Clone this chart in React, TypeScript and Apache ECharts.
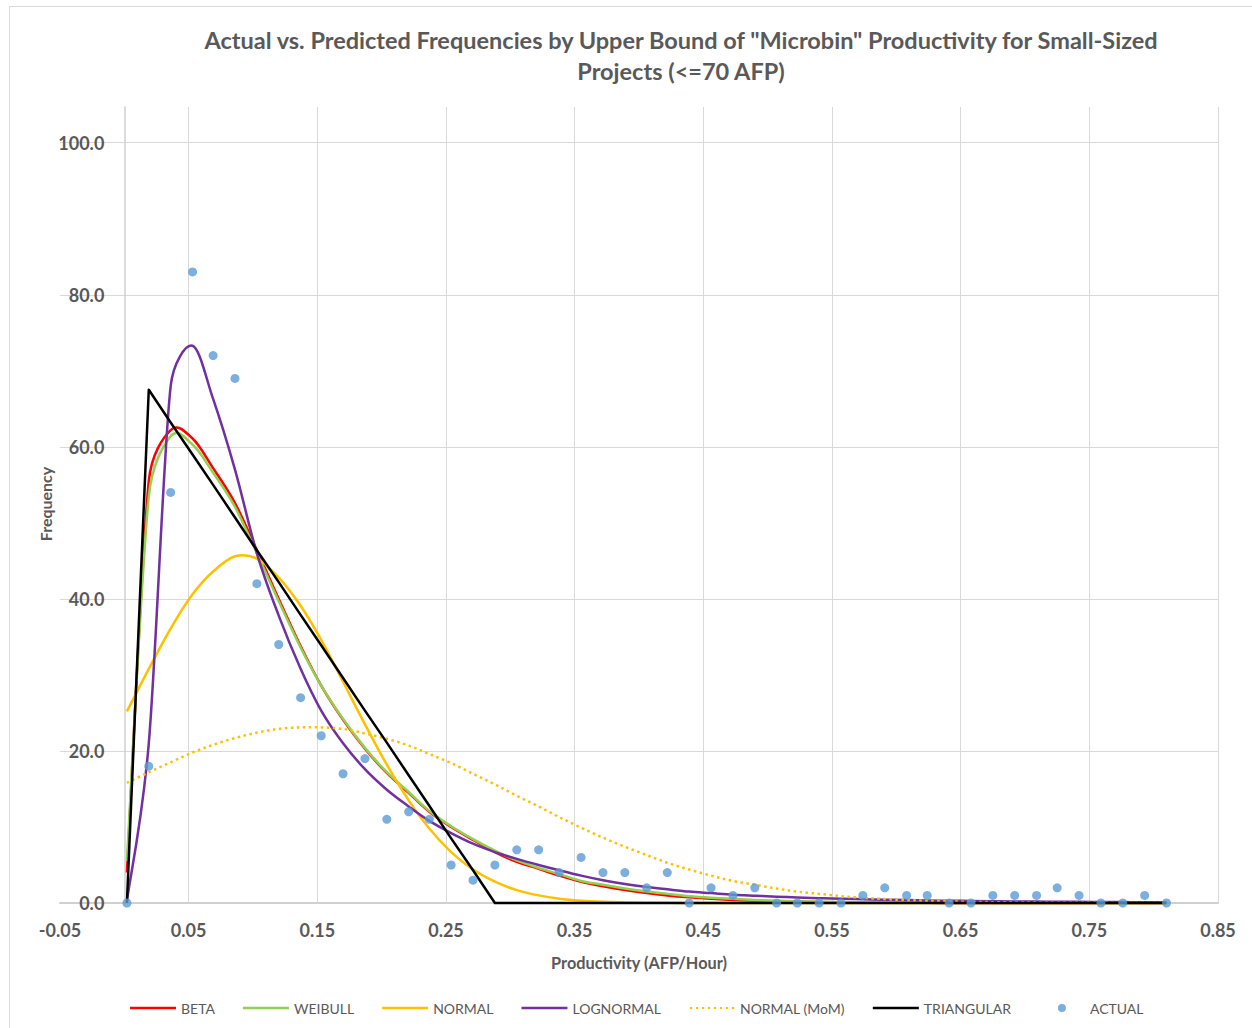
import React, { useEffect, useRef } from "react";
import * as echarts from "echarts";

const bins = [
  0.002, 0.019, 0.036, 0.053, 0.069, 0.086, 0.103, 0.120, 0.137, 0.153,
  0.170, 0.187, 0.204, 0.221, 0.237, 0.254, 0.271, 0.288, 0.305, 0.322,
  0.338, 0.355, 0.372, 0.389, 0.406, 0.422, 0.439, 0.456, 0.473, 0.490,
  0.507, 0.523, 0.540, 0.557, 0.574, 0.591, 0.608, 0.624, 0.641, 0.658,
  0.675, 0.692, 0.709, 0.725, 0.742, 0.759, 0.776, 0.793, 0.810,
];

const actual = [
  0, 18, 54, 83, 72, 69, 42, 34, 27, 22,
  17, 19, 11, 12, 11, 5, 3, 5, 7, 7,
  4, 6, 4, 4, 2, 4, 0, 2, 1, 2,
  0, 0, 0, 0, 1, 2, 1, 1, 0, 0,
  1, 1, 1, 2, 1, 0, 0, 1, 0,
];

const beta = [
  4.0, 55.5, 62.2, 61.1, 57.2, 52.6, 46.4, 40.0, 33.8, 28.6,
  24.1, 20.3, 17.1, 14.5, 12.0, 10.0, 8.3, 6.7, 5.4, 4.5,
  3.6, 2.8, 2.2, 1.7, 1.3, 1.0, 0.75, 0.55, 0.4, 0.3,
  0.2, 0.15, 0.1, 0.07, 0.05, 0.03, 0.02, 0.02, 0.01, 0.01,
  0.01, 0.01, 0, 0, 0, 0, 0, 0, 0,
];

const weibull = [
  5.5, 53.5, 61.4, 60.3, 56.6, 52.1, 46.0, 39.7, 33.6, 28.6,
  24.2, 20.4, 17.2, 14.6, 12.1, 10.1, 8.4, 6.9, 5.6, 4.6,
  3.8, 2.9, 2.4, 1.9, 1.5, 1.2, 0.9, 0.7, 0.55, 0.4,
  0.3, 0.22, 0.17, 0.13, 0.1, 0.07, 0.05, 0.04, 0.03, 0.02,
  0.02, 0.01, 0.01, 0.01, 0.01, 0.01, 0.01, 0.01, 0.01,
];

const normal = [
  25.2, 30.8, 36.1, 40.6, 43.6, 45.6, 45.3, 42.8, 39.1, 34.6,
  29.1, 23.5, 18.2, 13.5, 9.8, 6.7, 4.4, 2.8, 1.7, 1.0,
  0.56, 0.3, 0.15, 0.08, 0.04, 0.02, 0.01, 0, 0, 0,
  0, 0, 0, 0, 0, 0, 0, 0, 0, 0,
  0, 0, 0, 0, 0, 0, 0, 0, 0,
];

const lognormal = [
  0.3, 21.0, 68.0, 73.3, 66.3, 57.0, 46.0, 37.8, 30.8, 25.3,
  21.0, 17.6, 14.9, 12.7, 10.8, 9.2, 7.8, 6.7, 5.8, 5.0,
  4.3, 3.6, 3.0, 2.5, 2.1, 1.8, 1.5, 1.3, 1.1, 0.96,
  0.83, 0.73, 0.64, 0.56, 0.5, 0.44, 0.39, 0.34, 0.3, 0.27,
  0.24, 0.21, 0.19, 0.17, 0.15, 0.13, 0.12, 0.11, 0.1,
];

const normalMoM = [
  15.8, 17.2, 18.5, 19.8, 20.8, 21.7, 22.4, 22.9, 23.1, 23.1,
  22.9, 22.3, 21.6, 20.7, 19.6, 18.4, 17.0, 15.6, 14.1, 12.7,
  11.3, 9.9, 8.6, 7.4, 6.3, 5.3, 4.4, 3.6, 2.9, 2.4,
  1.9, 1.5, 1.2, 0.9, 0.68, 0.51, 0.38, 0.29, 0.21, 0.15,
  0.11, 0.08, 0.05, 0.04, 0.03, 0.02, 0.01, 0.01, 0,
];

const triangular = [
  0, 67.5, 63.2, 59.0, 55.0, 50.7, 46.4, 42.2, 37.9, 33.9,
  29.6, 25.3, 21.1, 16.8, 12.8, 8.5, 4.3, 0, 0, 0,
  0, 0, 0, 0, 0, 0, 0, 0, 0, 0,
  0, 0, 0, 0, 0, 0, 0, 0, 0, 0,
  0, 0, 0, 0, 0, 0, 0, 0, 0,
];

const legendNames = ["BETA", "WEIBULL", "NORMAL", "LOGNORMAL", "NORMAL (MoM)", "TRIANGULAR", "ACTUAL"];

const titleText =
  'Actual vs. Predicted Frequencies by Upper Bound of "Microbin" Productivity for Small-Sized\nProjects (<=70 AFP)';
const xName = "Productivity (AFP/Hour)";
const yName = "Frequency";

const FONT = "Lato, 'Open Sans', 'Liberation Sans', sans-serif";
const TEXT = "#595959";

const pairs = (ys: number[]) => bins.map((x, i) => [x, ys[i]]);

// Excel-like smoothed bezier through the points (pixel space)
function smoothPath(pts: number[][], straight: boolean): string {
  const n = pts.length;
  let d = `M${pts[0][0]},${pts[0][1]}`;
  if (straight) {
    for (let i = 1; i < n; i++) d += `L${pts[i][0]},${pts[i][1]}`;
    return d;
  }
  const dist = (a: number[], b: number[]) => Math.hypot(a[0] - b[0], a[1] - b[1]);
  for (let i = 0; i < n - 1; i++) {
    const p0 = pts[i - 1] || pts[i];
    const p1 = pts[i];
    const p2 = pts[i + 1];
    const p3 = pts[i + 2] || pts[i + 1];
    const d12 = dist(p1, p2);
    const d02 = dist(p0, p2);
    const d13 = dist(p1, p3);
    let f = 1 / 6;
    if (d02 > 0 && d02 * f > d12 / 2) f = d12 / d02 / 2;
    let g = 1 / 6;
    if (d13 > 0 && d13 * g > d12 / 2) g = d12 / d13 / 2;
    const b1 = [p1[0] + f * (p2[0] - p0[0]), p1[1] + f * (p2[1] - p0[1])];
    const b2 = [p2[0] - g * (p3[0] - p1[0]), p2[1] - g * (p3[1] - p1[1])];
    d += `C${b1[0]},${b1[1]} ${b2[0]},${b2[1]} ${p2[0]},${p2[1]}`;
  }
  return d;
}

const CORNERS_A = "M0,0h0.01v0.01h-0.01z";
const CORNERS_B = "M45.99,8.99h0.01v0.01h-0.01z";
const solidIcon = "path://" + CORNERS_A + "M0,3.2h46v2.6h-46z" + CORNERS_B;
const dottedIcon =
  "path://" +
  CORNERS_A +
  [1, 7, 13, 19, 25, 31, 37, 43].map((x) => `M${x},3.4h2.2v2.2h-2.2z`).join("") +
  CORNERS_B;
const dotIcon = "path://" + CORNERS_A + "M19,4.5a4,4 0 1,0 8,0a4,4 0 1,0 -8,0z" + CORNERS_B;

export default function App() {
  const ref = useRef<HTMLDivElement>(null);
  useEffect(() => {
    document.body.style.margin = "0";
    if (!ref.current) return;
    const chart = echarts.init(ref.current, null, { renderer: "svg" });

    const curve = (name: string, ys: number[], color: string, opts: { dash?: number[]; straight?: boolean } = {}) => ({
      name,
      type: "custom",
      coordinateSystem: "cartesian2d",
      data: pairs(ys),
      encode: { x: 0, y: 1 },
      itemStyle: { color },
      silent: true,
      renderItem: (params: any, api: any) => {
        if (params.dataIndex !== 0) return null;
        const pts = ys.map((y, i) => api.coord([bins[i], y]));
        return {
          type: "path",
          shape: { pathData: smoothPath(pts, !!opts.straight) },
          style: {
            fill: "none",
            stroke: color,
            lineWidth: 2.5,
            lineDash: opts.dash,
            lineCap: "butt",
            lineJoin: "round",
          },
        };
      },
    });

    chart.setOption({
      animation: false,
      backgroundColor: "#ffffff",
      title: {
        text: titleText,
        left: 676,
        top: 19,
        textAlign: "center",
        textStyle: {
          fontFamily: FONT,
          fontSize: 23.5,
          fontWeight: "bold",
          color: TEXT,
          lineHeight: 31,
        },
      },
      graphic: [
        {
          type: "rect",
          shape: { x: 9.5, y: 6.5, width: 1400, height: 1200 },
          style: { fill: "none", stroke: "#D9D9D9", lineWidth: 1 },
          silent: true,
        },
        {
          type: "text",
          x: 45,
          y: 504,
          rotation: Math.PI / 2,
          style: {
            text: yName,
            fontFamily: FONT,
            fontSize: 16,
            fontWeight: "bold",
            fill: TEXT,
            textAlign: "center",
            textVerticalAlign: "middle",
          },
        },
        {
          type: "text",
          x: 639,
          y: 962,
          style: {
            text: xName,
            fontFamily: FONT,
            fontSize: 16.3,
            fontWeight: "bold",
            fill: TEXT,
            textAlign: "center",
            textVerticalAlign: "middle",
          },
        },
      ],
      legend: {
        left: 125,
        top: 996,
        itemWidth: 46,
        itemHeight: 9,
        itemGap: 28,
        textStyle: { fontFamily: FONT, fontSize: 14, color: TEXT },
        data: legendNames.map((n) => ({
          name: n,
          icon: n === "ACTUAL" ? dotIcon : n === "NORMAL (MoM)" ? dottedIcon : solidIcon,
        })),
      },
      grid: { left: 60, right: 34, top: 107, bottom: 125, containLabel: false, outerBoundsMode: "none" },
      xAxis: {
        type: "value",
        min: -0.05,
        max: 0.85,
        interval: 0.1,
        axisLine: { show: true, onZero: false, lineStyle: { color: "#D0D0D0", width: 2 } },
        axisTick: { show: false },
        axisLabel: {
          margin: 18,
          fontFamily: FONT,
          fontSize: 18,
          fontWeight: "bold",
          color: TEXT,
          formatter: (v: number) => v.toFixed(2),
        },
        splitLine: { show: true, showMinLine: false, lineStyle: { color: "#D9D9D9", width: 1 } },
      },
      yAxis: {
        type: "value",
        min: 0,
        max: 104.7,
        interval: 20,
        offset: -64.33,
        axisLine: { show: true, onZero: false, lineStyle: { color: "#D0D0D0", width: 1.5 } },
        axisTick: { show: false },
        axisLabel: {
          margin: 20,
          fontFamily: FONT,
          fontSize: 18,
          fontWeight: "bold",
          color: TEXT,
          showMaxLabel: false,
          formatter: (v: number) => (Math.abs(v % 20) < 1e-6 ? v.toFixed(1) : ""),
        },
        splitLine: { show: true, showMaxLine: false, lineStyle: { color: "#D9D9D9", width: 1 } },
      },
      series: [
        curve("BETA", beta, "#FF0000"),
        curve("WEIBULL", weibull, "#92D050"),
        curve("NORMAL", normal, "#FFC000"),
        curve("LOGNORMAL", lognormal, "#7030A0"),
        curve("NORMAL (MoM)", normalMoM, "#FFC000", { dash: [2.5, 3.5] }),
        curve("TRIANGULAR", triangular, "#000000", { straight: true }),
        {
          name: "ACTUAL",
          type: "scatter",
          data: pairs(actual),
          symbol: "circle",
          symbolSize: 9,
          itemStyle: { color: "#5B9BD5" },
          z: 5,
        },
      ],
    });
    return () => chart.dispose();
  }, []);
  return <div ref={ref} style={{ width: 1252, height: 1028 }} />;
}
